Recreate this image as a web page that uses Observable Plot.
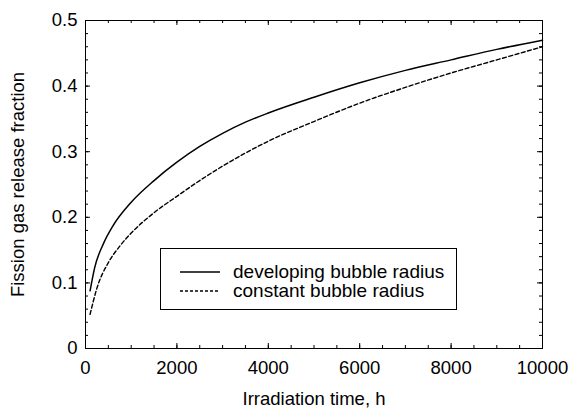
<!DOCTYPE html>
<html>
<head>
<meta charset="utf-8">
<script src="https://cdn.jsdelivr.net/npm/d3@7"></script>
<script src="https://cdn.jsdelivr.net/npm/@observablehq/plot@0.6"></script>
<style>
  body { margin: 0; background: #fff; }
  #chart { position: relative; width: 570px; height: 412px; font-family: "Liberation Sans", Arial, sans-serif; }
  #chart svg { display: block; }
  .legend { position: absolute; left: 160px; top: 248px; width: 297px; height: 62px; box-sizing: border-box;
            border: 1px solid #000; background: #fff; padding-top: 13px; }
  .legend .row { display: flex; align-items: center; height: 19.5px; font-size: 19px; color: #000; }
  .legend svg { margin-left: 19px; margin-right: 13px; }
</style>
</head>
<body>
<div id="chart"></div>
<script>
// Series data
const developingTime = [100, 200, 400, 600, 1000, 1500, 2000, 2500, 3000, 3500, 4000, 5000, 6000, 7000, 8000, 9000, 10000];
const developingFraction = [0.088, 0.123, 0.161, 0.187, 0.223, 0.256, 0.284, 0.308, 0.328, 0.345, 0.359, 0.383, 0.405, 0.424, 0.440, 0.456, 0.470];
const constantTime = [100, 250, 500, 750, 1000, 1500, 2000, 2500, 3000, 3500, 4000, 5000, 6000, 7000, 8000, 9000, 10000];
const constantFraction = [0.052, 0.092, 0.131, 0.156, 0.176, 0.207, 0.232, 0.256, 0.278, 0.298, 0.316, 0.346, 0.374, 0.398, 0.420, 0.440, 0.460];

const seriesNames = ["developing bubble radius", "constant bubble radius"];
const xTickLabels = [0, 2000, 4000, 6000, 8000, 10000];
const yTickLabels = [0, 0.1, 0.2, 0.3, 0.4, 0.5];
const xMinorTicks = d3.range(500, 10000, 500);
const yMinorTicks = d3.range(0.02, 0.499, 0.02);
const xTitle = "Irradiation time, h";
const yTitle = "Fission gas release fraction";

const developing = developingTime.map((t, i) => ({t, f: developingFraction[i]}));
const constant = constantTime.map((t, i) => ({t, f: constantFraction[i]}));

const W = 570, H = 412;
const mL = 85, mR = 28, mT = 20, mB = 64;
const pw = W - mL - mR, ph = H - mT - mB;

const plot = Plot.plot({
  width: W, height: H,
  marginLeft: mL, marginRight: mR, marginTop: mT, marginBottom: mB,
  style: {fontFamily: '"Liberation Sans", Arial, sans-serif', fontSize: "18.5px", color: "#000", background: "#fff"},
  x: {domain: [0, 10000]},
  y: {domain: [0, 0.5]},
  marks: [
    // inward minor ticks on all four sides
    Plot.tickX(xMinorTicks, {insetTop: ph - 3, stroke: "#000"}),
    Plot.tickX(xMinorTicks, {insetBottom: ph - 3, stroke: "#000"}),
    Plot.tickY(yMinorTicks, {insetRight: pw - 3, stroke: "#000"}),
    Plot.tickY(yMinorTicks, {insetLeft: pw - 3, stroke: "#000"}),
    // major ticks
    Plot.tickX(xTickLabels, {insetTop: ph - 5, stroke: "#000"}),
    Plot.tickX(xTickLabels, {insetBottom: ph - 5, stroke: "#000"}),
    Plot.tickY(yTickLabels, {insetRight: pw - 5, stroke: "#000"}),
    Plot.tickY(yTickLabels, {insetLeft: pw - 5, stroke: "#000"}),
    Plot.axisX(xTickLabels, {tickSize: 0, tickPadding: 12, tickFormat: d => String(d), label: null, fontSize: 18.5}),
    Plot.axisY(yTickLabels, {tickSize: 0, tickPadding: 8, tickFormat: d => String(d), label: null, fontSize: 18.5}),
    Plot.text([xTitle], {frameAnchor: "bottom", dy: 56, fontSize: 18.5, fill: "#000"}),
    Plot.text([yTitle], {frameAnchor: "left", dx: -67, rotate: -90, textAnchor: "middle", fontSize: 18.5, fill: "#000"}),
    Plot.line(developing, {x: "t", y: "f", stroke: "#000", strokeWidth: 1.5, curve: "monotone-x"}),
    Plot.line(constant, {x: "t", y: "f", stroke: "#000", strokeWidth: 1.4, strokeDasharray: "4,2.5", curve: "monotone-x"}),
    Plot.frame({stroke: "#000", strokeWidth: 1})
  ]
});

const chart = document.getElementById("chart");
chart.appendChild(plot);

const legend = document.createElement("div");
legend.className = "legend";
seriesNames.forEach((name, i) => {
  const row = document.createElement("div");
  row.className = "row";
  const dash = i === 0 ? "" : 'stroke-dasharray="3,2"';
  row.innerHTML = `<svg width="40" height="4"><line x1="0" y1="2" x2="40" y2="2" stroke="#000" stroke-width="1.3" ${dash}/></svg><span>${name}</span>`;
  legend.appendChild(row);
});
chart.appendChild(legend);
</script>
</body>
</html>
